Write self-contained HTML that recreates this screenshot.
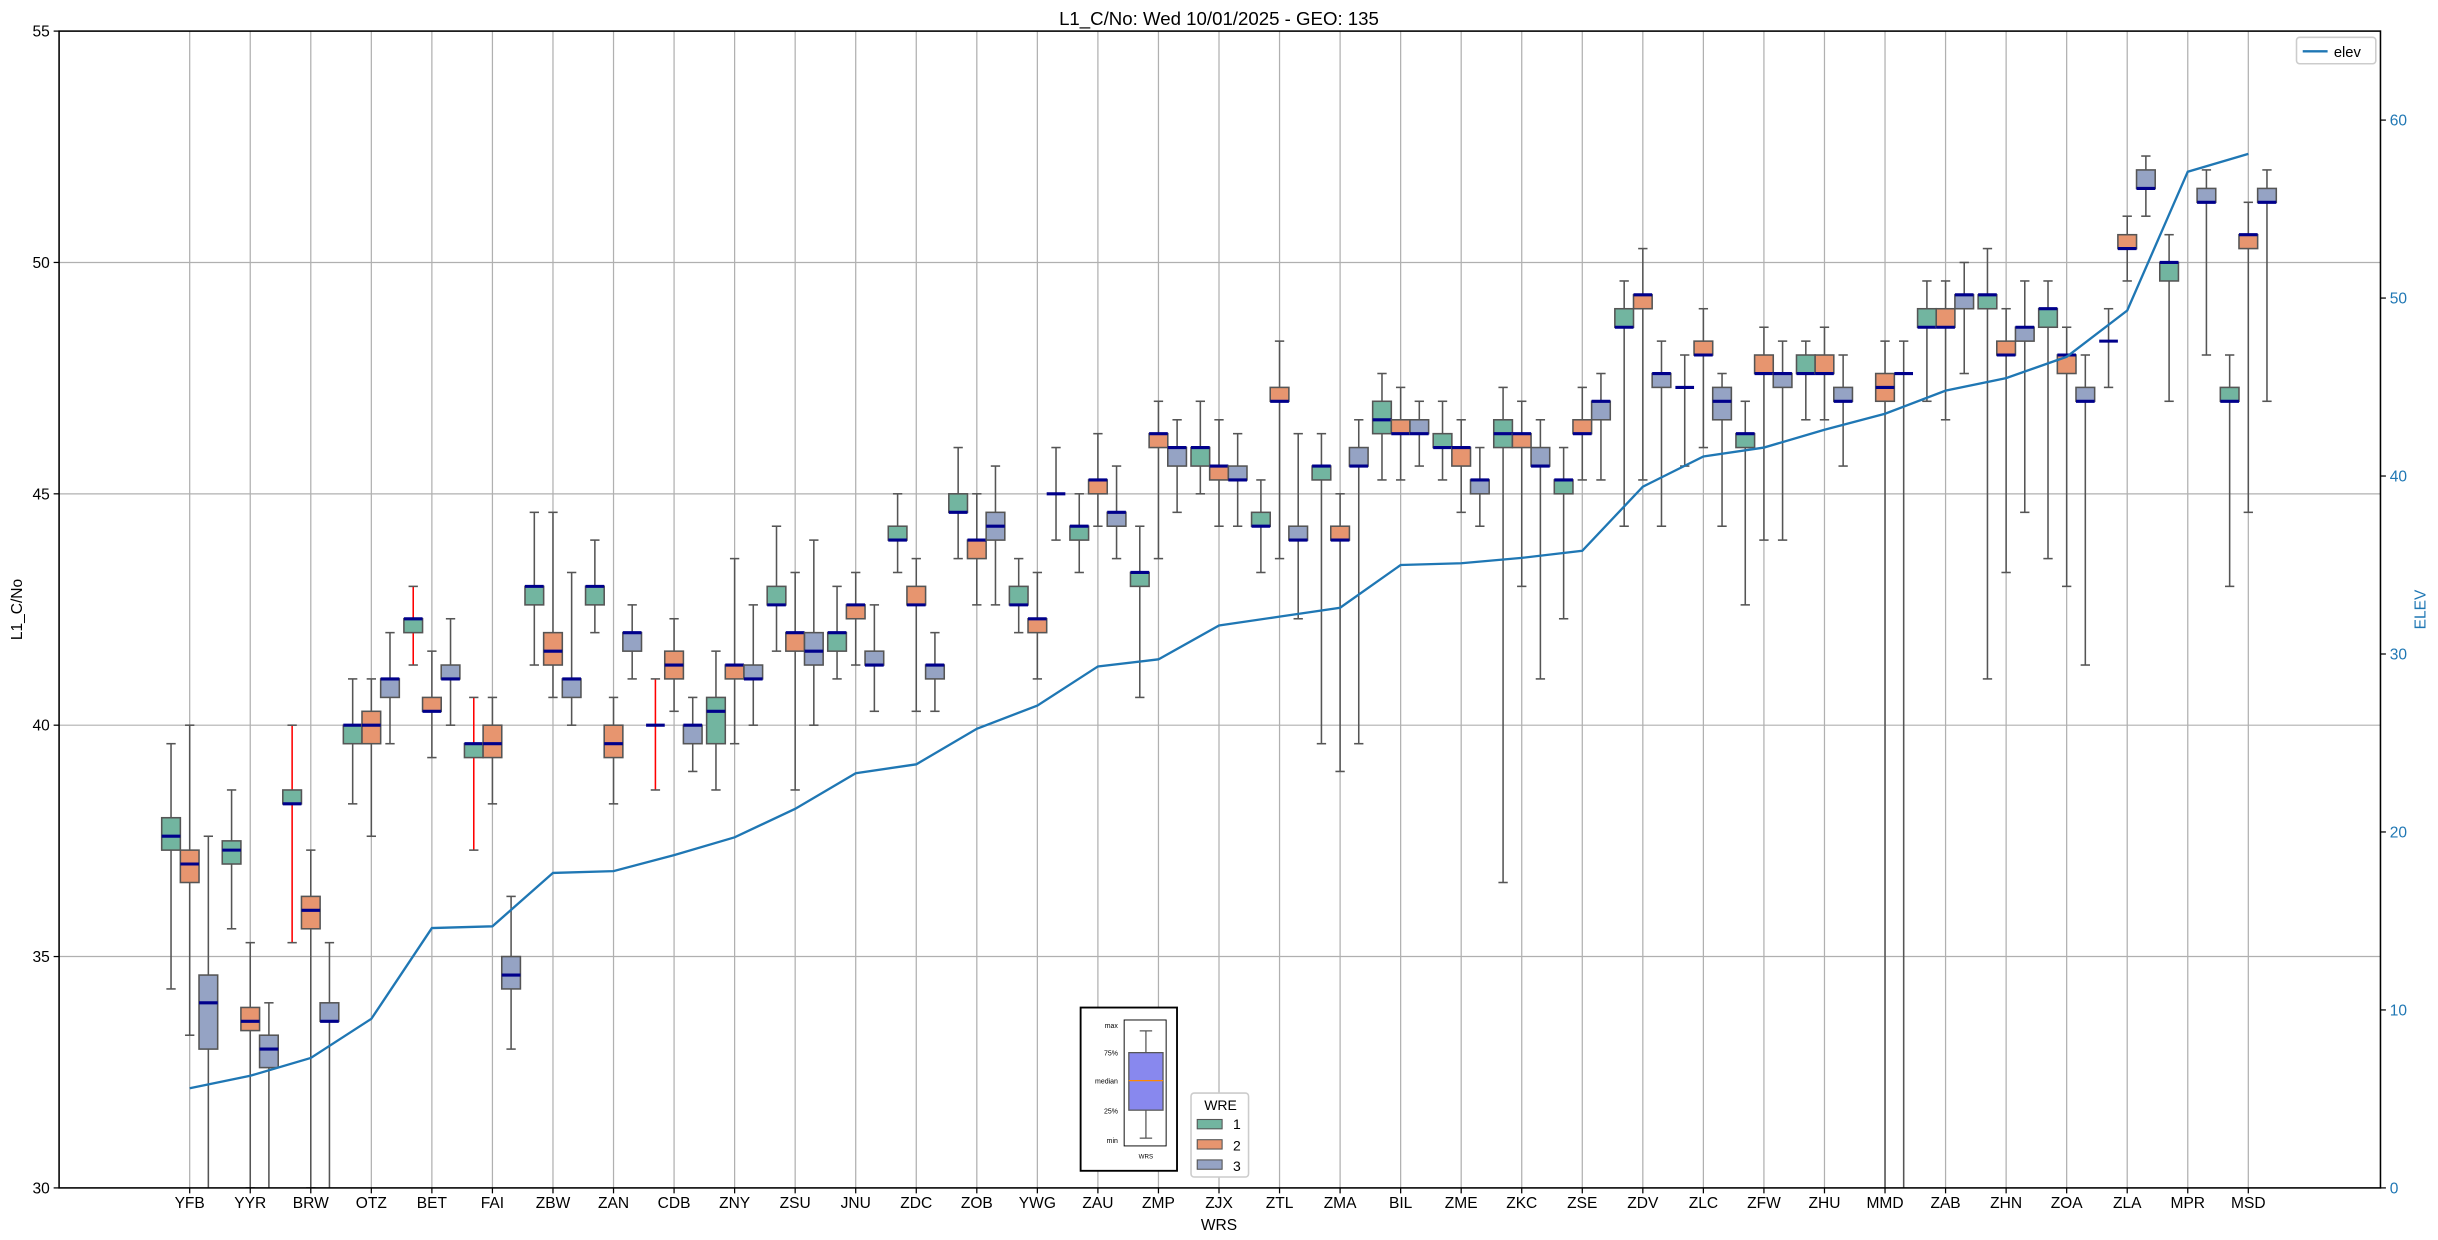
<!DOCTYPE html>
<html><head><meta charset="utf-8"><style>
html,body{margin:0;padding:0;background:#fff;}
svg{display:block;font-family:"Liberation Sans","DejaVu Sans",sans-serif;}
</style></head><body>
<svg id="chart" width="2438" height="1240" viewBox="0 0 1568 797.5" xmlns="http://www.w3.org/2000/svg">
<defs><clipPath id="clip"><rect x="38" y="20" width="1493" height="744"/></clipPath></defs>
<rect width="1568" height="797.5" fill="#fff"/>
<text x="784" y="16" font-size="12" text-anchor="middle">L1_C/No: Wed 10/01/2025 - GEO: 135</text>
<g id="grid"></g>
<g id="marks" clip-path="url(#clip)"></g>
<rect x="38" y="20" width="1493" height="744" fill="none" stroke="#000" stroke-width="1"/>
<g id="axes"></g>
<text x="784" y="791" font-size="10" text-anchor="middle">WRS</text>
<text transform="translate(14,392) rotate(-90)" font-size="10" text-anchor="middle">L1_C/No</text>
<text transform="translate(1560,392) rotate(-90)" font-size="10" fill="#1f77b4" text-anchor="middle">ELEV</text>
<g>
<rect x="1477" y="24" width="51" height="17" fill="#fff" stroke="#ccc" rx="2"/>
<line x1="1481" y1="33" x2="1497" y2="33" stroke="#1f77b4" stroke-width="1.5"/>
<text x="1501" y="36.5" font-size="9.5">elev</text>
</g>
<g>
<rect x="695" y="648" width="62" height="105" fill="#fff" stroke="#000" stroke-width="1.2"/>
<rect x="723" y="656" width="27" height="81" fill="none" stroke="#000" stroke-width="0.6"/>
<line x1="737" y1="663" x2="737" y2="732" stroke="#555" stroke-width="0.8"/>
<line x1="733" y1="663" x2="741" y2="663" stroke="#555" stroke-width="0.8"/>
<line x1="733" y1="732" x2="741" y2="732" stroke="#555" stroke-width="0.8"/>
<rect x="726" y="677" width="22" height="37" fill="#8888ee" stroke="#555" stroke-width="0.8"/>
<line x1="726" y1="695" x2="748" y2="695" stroke="#ff8800" stroke-width="0.8"/>
<g font-size="4.5" text-anchor="end"><text x="719" y="661">max</text><text x="719" y="679">75%</text><text x="719" y="697">median</text><text x="719" y="716">25%</text><text x="719" y="735">min</text></g>
<text x="737" y="745" font-size="4" text-anchor="middle">WRS</text>
</g>
<g>
<rect x="766" y="703" width="37" height="54" fill="#fff" stroke="#ccc" rx="2"/>
<text x="785" y="714" font-size="9" text-anchor="middle">WRE</text>
<rect x="770" y="720" width="16" height="6" fill="#72b5a0" stroke="#555" stroke-width="0.7"/>
<text x="793" y="726" font-size="9">1</text>
<rect x="770" y="733" width="16" height="6" fill="#e7956f" stroke="#555" stroke-width="0.7"/>
<text x="793" y="740" font-size="9">2</text>
<rect x="770" y="746" width="16" height="6" fill="#95a3c4" stroke="#555" stroke-width="0.7"/>
<text x="793" y="753" font-size="9">3</text>
</g>
</svg>
<script>
const categories=["YFB","YYR","BRW","OTZ","BET","FAI","ZBW","ZAN","CDB","ZNY","ZSU","JNU","ZDC","ZOB","YWG","ZAU","ZMP","ZJX","ZTL","ZMA","BIL","ZME","ZKC","ZSE","ZDV","ZLC","ZFW","ZHU","MMD","ZAB","ZHN","ZOA","ZLA","MPR","MSD"];
const s1q1=[37.3,37.0,38.3,39.6,42.0,39.3,42.6,42.6,40.0,39.6,42.6,41.6,44.0,44.6,42.6,44.0,43.0,45.6,44.3,45.3,46.3,46.0,46.0,45.0,48.6,47.3,46.0,47.6,null,48.6,49.0,48.6,48.3,49.6,47.0];
const s1q3=[38.0,37.5,38.6,40.0,42.3,39.6,43.0,43.0,40.0,40.6,43.0,42.0,44.3,45.0,43.0,44.3,43.3,46.0,44.6,45.6,47.0,46.3,46.6,45.3,49.0,47.3,46.3,48.0,null,49.0,49.3,49.0,48.3,50.0,47.3];
const s1med=[37.6,37.3,38.3,40.0,42.3,39.6,43.0,43.0,40.0,40.3,42.6,42.0,44.0,44.6,42.6,44.3,43.3,46.0,44.3,45.6,46.6,46.0,46.3,45.3,48.6,47.3,46.3,47.6,null,48.6,49.3,49.0,48.3,50.0,47.0];
const s1lo=[34.3,35.6,35.3,38.3,41.3,37.3,41.3,42.0,38.6,38.6,41.6,41.0,43.3,43.6,42.0,43.3,40.6,45.0,43.3,39.6,45.3,45.3,36.6,42.3,44.3,45.6,42.6,46.6,null,47.0,41.0,43.6,47.3,47.0,43.0];
const s1hi=[39.6,38.6,40.0,41.0,43.0,40.6,44.6,44.0,41.0,41.6,44.3,43.0,45.0,46.0,43.6,45.0,44.3,47.0,45.3,46.3,47.6,47.0,47.3,46.0,49.6,48.0,47.0,48.3,null,49.6,50.3,49.6,49.0,50.6,48.0];
const s1red=[false,false,true,false,true,true,false,false,true,false,false,false,false,false,false,false,false,false,false,false,false,false,false,false,false,false,false,false,false,false,false,false,false,false,false];
const s2q1=[36.6,33.4,35.6,39.6,40.3,39.3,41.3,39.3,41.0,41.0,41.6,42.3,42.6,43.6,42.0,45.0,46.0,45.3,47.0,44.0,46.3,45.6,46.0,46.3,49.0,48.0,47.6,47.6,47.0,48.6,48.0,47.6,50.3,null,50.3];
const s2q3=[37.3,33.9,36.3,40.3,40.6,40.0,42.0,40.0,41.6,41.3,42.0,42.6,43.0,44.0,42.3,45.3,46.3,45.6,47.3,44.3,46.6,46.0,46.3,46.6,49.3,48.3,48.0,48.0,47.6,49.0,48.3,48.0,50.6,null,50.6];
const s2med=[37.0,33.6,36.0,40.0,40.3,39.6,41.6,39.6,41.3,41.3,42.0,42.6,42.6,44.0,42.3,45.3,46.3,45.6,47.0,44.0,46.3,46.0,46.3,46.3,49.3,48.0,47.6,47.6,47.3,48.6,48.0,48.0,50.3,null,50.6];
const s2lo=[33.3,30,30,37.6,39.3,38.3,40.6,38.3,40.3,39.6,38.6,41.3,40.3,42.6,41.0,44.3,43.6,44.3,43.6,39.0,45.3,44.6,43.0,45.3,45.3,46.0,44.0,46.6,29,46.6,43.3,43.0,49.6,null,44.6];
const s2hi=[40.0,35.3,37.3,41.0,41.6,40.6,44.6,40.6,42.3,43.6,43.3,43.3,43.6,45.0,43.3,46.3,47.0,46.6,48.3,45.0,47.3,46.6,47.0,47.3,50.3,49.0,48.6,48.6,48.3,49.6,49.0,48.6,51.0,null,51.3];
const s3q1=[33.0,32.6,33.6,40.6,41.0,34.3,40.6,41.6,39.6,41.0,41.3,41.3,41.0,44.0,45.0,44.3,45.6,45.3,44.0,45.6,46.3,45.0,45.6,46.6,47.3,46.6,47.3,47.0,47.6,49.0,48.3,47.0,51.6,51.3,51.3];
const s3q3=[34.6,33.3,34.0,41.0,41.3,35.0,41.0,42.0,40.0,41.3,42.0,41.6,41.3,44.6,45.0,44.6,46.0,45.6,44.3,46.0,46.6,45.3,46.0,47.0,47.6,47.3,47.6,47.3,47.6,49.3,48.6,47.3,52.0,51.6,51.6];
const s3med=[34.0,33.0,33.6,41.0,41.0,34.6,41.0,42.0,40.0,41.0,41.6,41.3,41.3,44.3,45.0,44.6,46.0,45.3,44.0,45.6,46.3,45.3,45.6,47.0,47.6,47.0,47.6,47.0,47.6,49.3,48.6,47.0,51.6,51.3,51.3];
const s3lo=[29,29,29,39.6,40.0,33.0,40.0,41.0,39.0,40.0,40.0,40.3,40.3,42.6,44.0,43.6,44.6,44.3,42.3,39.6,45.6,44.3,41.0,45.3,44.3,44.3,44.0,45.6,29,47.6,44.6,41.3,51.0,48.0,47.0];
const s3hi=[37.6,34.0,35.3,42.0,42.3,36.3,43.3,42.6,40.6,42.6,44.0,42.6,42.0,45.6,46.0,45.6,46.6,46.3,46.3,46.6,47.0,46.0,46.6,47.6,48.3,47.6,48.3,48.0,48.3,50.0,49.6,48.0,52.3,52.0,52.0];
const elev=[5.6,6.3,7.3,9.5,14.6,14.7,17.7,17.8,18.7,19.7,21.3,23.3,23.8,25.8,27.1,29.3,29.7,31.6,32.1,32.6,35.0,35.1,35.4,35.8,39.4,41.1,41.6,42.6,43.5,44.8,45.5,46.7,49.3,57.1,58.1];
const yTicks=[30,35,40,45,50,55];
const elevTicks=[0,10,20,30,40,50,60];

const NS="http://www.w3.org/2000/svg";
const X0=122,DX=(1446-122)/34;
const xPos=i=>X0+i*DX;
const yL=v=>764-(v-30)*(744/25);
const yR=v=>764-v*(744/65);
function mk(tag,at,parent){const e=document.createElementNS(NS,tag);for(const k in at)e.setAttribute(k,at[k]);parent.appendChild(e);return e;}
const grid=document.getElementById('grid'),marks=document.getElementById('marks'),axes=document.getElementById('axes');
categories.forEach((c,i)=>{
  const x=xPos(i);
  const g=mk('line',{x1:x,y1:20,x2:x,y2:764,stroke:'#b0b0b0','stroke-width':0.8},grid);
  
  
  mk('line',{x1:x,y1:764,x2:x,y2:767.5,stroke:'#000','stroke-width':0.8},axes);
  const t=mk('text',{x:x,y:777,'font-size':10,'text-anchor':'middle'},axes);
  t.textContent=c;
  
  
});
yTicks.forEach(v=>{
  const y=yL(v);
  if(v>30&&v<55){const g=mk('line',{x1:38,y1:y,x2:1531,y2:y,stroke:'#b0b0b0','stroke-width':0.8},grid);
  
  }
  mk('line',{x1:34.5,y1:y,x2:38,y2:y,stroke:'#000','stroke-width':0.8},axes);
  const t=mk('text',{x:32,y:y+3.5,'font-size':10,'text-anchor':'end'},axes);
  t.textContent=v;
  
  
});
elevTicks.forEach(v=>{
  const y=yR(v);
  mk('line',{x1:1531,y1:y,x2:1534.5,y2:y,stroke:'#000','stroke-width':0.8},axes);
  const t=mk('text',{x:1537,y:y+3.5,'font-size':10,fill:'#1f77b4'},axes);
  t.textContent=v;
  
  
});
const series=[
 {q1:s1q1,q3:s1q3,med:s1med,lo:s1lo,hi:s1hi,fill:'#72b5a0',off:-12,red:s1red},
 {q1:s2q1,q3:s2q3,med:s2med,lo:s2lo,hi:s2hi,fill:'#e7956f',off:0,red:null},
 {q1:s3q1,q3:s3q3,med:s3med,lo:s3lo,hi:s3hi,fill:'#95a3c4',off:12,red:null}];
series.forEach((s,si)=>{
  categories.forEach((c,i)=>{
    if(s.q1[i]==null)return;
    const x=xPos(i)+s.off, w=12, cw=3;
    const wc=(s.red&&s.red[i])?'#ff0000':'#555';
    const g=mk('g',{},marks);
    
    
    mk('line',{x1:x,y1:yL(s.lo[i]),x2:x,y2:yL(s.q1[i]),stroke:wc,'stroke-width':1},g);
    mk('line',{x1:x,y1:yL(s.q3[i]),x2:x,y2:yL(s.hi[i]),stroke:wc,'stroke-width':1},g);
    mk('line',{x1:x-cw,y1:yL(s.lo[i]),x2:x+cw,y2:yL(s.lo[i]),stroke:'#555','stroke-width':1},g);
    mk('line',{x1:x-cw,y1:yL(s.hi[i]),x2:x+cw,y2:yL(s.hi[i]),stroke:'#555','stroke-width':1},g);
    mk('rect',{x:x-w/2,y:yL(s.q3[i]),width:w,height:Math.max(0,yL(s.q1[i])-yL(s.q3[i])),fill:s.fill,stroke:'#555','stroke-width':1},g);
    mk('line',{x1:x-w/2,y1:yL(s.med[i]),x2:x+w/2,y2:yL(s.med[i]),stroke:'#00008b','stroke-width':2},g);
  });
});
const pts=elev.map((v,i)=>xPos(i)+','+yR(v)).join(' ');
const pl=mk('polyline',{points:pts,fill:'none',stroke:'#1f77b4','stroke-width':1.5},marks);


</script>
</body></html>
